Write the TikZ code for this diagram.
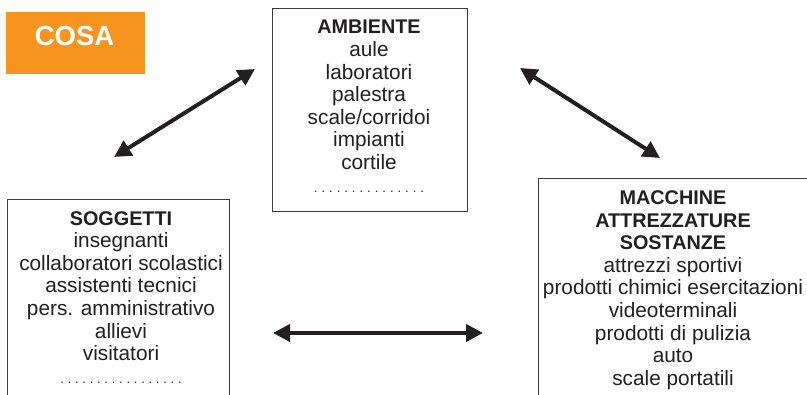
\documentclass[tikz,border=0pt]{standalone}
\usepackage{fontspec}
\setmainfont{Liberation Sans}
\usetikzlibrary{arrows.meta}
\definecolor{cosaorange}{HTML}{F7941D}
\definecolor{inkblack}{HTML}{231F20}
\definecolor{boxgray}{HTML}{3A3A3A}
\newcommand\dotrow[2]{{\fontsize{13}{13}\selectfont\hbox to #1{\xleaders\hbox to #2{\hss.\hss}\hfill}}}
\newcommand\hd[1]{{\fontsize{19.8}{22.6}\selectfont\bfseries #1}}
\tikzset{
  boxframe/.style={draw=boxgray, line width=1.3pt, fill=none, inner sep=0pt},
  boxtext/.style={align=center, inner sep=0pt, anchor=north, text=inkblack,
    font=\fontsize{20.8}{22.6}\selectfont},
  bigarrow/.style={draw=inkblack, line width=4pt,
    {Triangle[length=17pt,width=17pt]}-{Triangle[length=17pt,width=17pt]}},
}
\begin{document}
\begin{tikzpicture}[x=1pt,y=-1pt]
\useasboundingbox (0,0) rectangle (807,395);
\clip (0,0) rectangle (807,395);
\fill[white] (0,0) rectangle (807,395);
% COSA label
\node[fill=cosaorange, minimum width=139pt, minimum height=62pt, inner sep=0pt, anchor=north west] (cosa) at (6,12) {};
\node[text=white, font=\fontsize{27.5}{30}\selectfont\bfseries, inner sep=0pt] (cosatext) at (74.5,36) {COSA};
% boxes
\node[boxframe, minimum width=195pt, minimum height=203pt, anchor=north west] (ambbox) at (272,8) {};
\node[boxframe, minimum width=222pt, minimum height=230pt, anchor=north west] (sogbox) at (7,199) {};
\node[boxframe, minimum width=290pt, minimum height=240pt, anchor=north west] (macbox) at (538,178) {};
% texts
\node[boxtext] (amb) at (369,20) {\hd{AMBIENTE}\\aule\\laboratori\\palestra\\scale/corridoi\\impianti\\cortile\\\dotrow{114pt}{7.6pt}};
\node[boxtext] (sog) at (121,211) {\hd{SOGGETTI}\\insegnanti\\collaboratori scolastici\\assistenti tecnici\\pers. amministrativo\\allievi\\visitatori\\\dotrow{125pt}{7.35pt}};
\node[boxtext] (mac) at (673,190.5) {\hd{MACCHINE}\\\hd{ATTREZZATURE}\\\hd{SOSTANZE}\\attrezzi sportivi\\prodotti chimici esercitazioni\\videoterminali\\prodotti di pulizia\\auto\\scale portatili};
% arrows
\coordinate (a1s) at (114,157);
\coordinate (a1e) at (255,69);
\coordinate (a2s) at (520,68);
\coordinate (a2e) at (660,158);
\coordinate (a3s) at (273,333);
\coordinate (a3e) at (483,333);
\draw[bigarrow] (a1s) -- (a1e);
\draw[bigarrow] (a2s) -- (a2e);
\draw[bigarrow] (a3s) -- (a3e);
\end{tikzpicture}
\end{document}
